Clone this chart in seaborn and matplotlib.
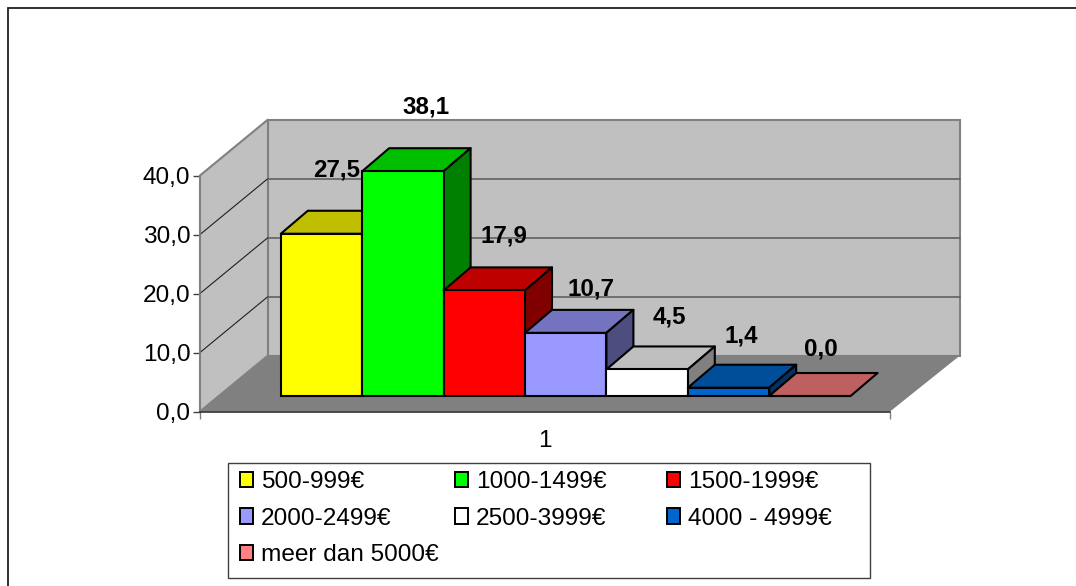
import matplotlib
matplotlib.use("Agg")
import matplotlib.pyplot as plt
from matplotlib.lines import Line2D
from matplotlib.patches import Patch, Polygon, Rectangle
from matplotlib.ticker import FuncFormatter
import seaborn as sns

categories = ["500-999€", "1000-1499€", "1500-1999€", "2000-2499€",
              "2500-3999€", "4000 - 4999€", "meer dan 5000€"]
values = [27.5, 38.1, 17.9, 10.7, 4.5, 1.4, 0.0]
bar_colors = ["#FFFF00", "#00FF00", "#FF0000", "#9999FF",
              "#FFFFFF", "#0066CC", "#FF8080"]
y_ticks = [0, 10, 20, 30, 40]
x_label = "1"

# label nudges from the top centre of each bar, in pixels (x, up)
label_nudge = [(15, 64), (23, 64), (20, 54), (25, 44), (22, 52), (13, 52), (11, 47)]
legend_columns = [[0, 3, 6], [1, 4], [2, 5]]
legend_left = [240, 455, 667]

W, H = 1076, 586
PX_PER_UNIT = 5.9
WALL_DEPTH = (68, 56)
WALL_DEPTH_RIGHT = 70
BAR_DEPTH = (27, 23)
BAR_EDGE = 1.5
GREY = "#C0C0C0"
DARK = "#808080"
TEXT_SIZE = 17.6

sns.set_theme(style="white")
plt.rcParams["font.family"] = ["Liberation Sans", "DejaVu Sans"]
plt.rcParams["font.size"] = TEXT_SIZE
plt.rcParams["text.color"] = "black"
plt.rcParams["xtick.labelcolor"] = "black"
plt.rcParams["ytick.labelcolor"] = "black"


def px_axes(fig, left, right, bottom, top):
    # axes placed with pixel positions measured from the top of the image
    ax = fig.add_axes([left / W, 1 - bottom / H, (right - left) / W, (bottom - top) / H])
    ax.patch.set_visible(False)
    return ax


def shade(color, factor):
    r, g, b = matplotlib.colors.to_rgb(color)
    return (r * factor, g * factor, b * factor)


fig = plt.figure(figsize=(W / 100, H / 100), dpi=100)
# chart area border, cut off by the image on the right and at the bottom
fig.add_artist(Line2D([7.5 / W, 7.5 / W, 1], [0, 1 - 7.5 / H, 1 - 7.5 / H],
                      color="#202020", linewidth=1.3, solid_joinstyle="miter"))

# walls and floor, on the value axis of the front plane
ax_front = px_axes(fig, 200, 890, 411.5, 175.5)
ax_front.set_xlim(0, 1)
ax_front.set_ylim(0, 40)
wall_dx = WALL_DEPTH[0] / 690
wall_right = 1 + WALL_DEPTH_RIGHT / 690
wall_dy = WALL_DEPTH[1] / PX_PER_UNIT
floor_pts = [(0, 0), (wall_dx, wall_dy), (wall_right, wall_dy), (1, 0)]
side_pts = [(0, 0), (wall_dx, wall_dy), (wall_dx, 40 + wall_dy), (0, 40)]
back_pts = [(wall_dx, wall_dy), (wall_dx, 40 + wall_dy),
            (wall_right, 40 + wall_dy), (wall_right, wall_dy)]
ax_front.add_patch(Polygon(back_pts, facecolor=GREY, edgecolor=DARK, linewidth=1.5, clip_on=False))
ax_front.add_patch(Polygon(side_pts, facecolor=GREY, edgecolor=DARK, linewidth=1.5, clip_on=False))
ax_front.add_patch(Polygon(floor_pts, facecolor=DARK, edgecolor="none", clip_on=False))
for tick in y_ticks[1:-1]:
    ax_front.plot([0, wall_dx], [tick, tick + wall_dy], color="#202020", lw=0.8, clip_on=False)
    ax_front.plot([wall_dx, wall_right], [tick + wall_dy, tick + wall_dy],
                  color="#606060", lw=1.2, clip_on=False)

for side in ["top", "right"]:
    ax_front.spines[side].set_visible(False)
ax_front.spines["left"].set_color(DARK)
ax_front.spines["left"].set_linewidth(1.2)
ax_front.spines["bottom"].set_color("#303030")
ax_front.spines["bottom"].set_linewidth(1.2)
ax_front.set_yticks(y_ticks)
ax_front.yaxis.set_major_formatter(FuncFormatter(lambda v, _: f"{v:.1f}".replace(".", ",")))
ax_front.set_xticks([0, 1])
ax_front.set_xticklabels([])
ax_front.set_xticks([0.5], labels=[x_label], minor=True)
ax_front.tick_params(axis="y", left=True, length=5, width=1, color="#404040", pad=2, labelsize=TEXT_SIZE)
ax_front.tick_params(axis="x", which="major", bottom=True, length=5, width=1, color=DARK)
ax_front.tick_params(axis="x", which="minor", bottom=False, length=0, pad=13, labelsize=TEXT_SIZE)

# bars, with the depth faces built from the bar rectangles
ax_bars = px_axes(fig, 280.8, 280.8 + 7 * 81.4, 396, 396 - 40 * PX_PER_UNIT)
sns.barplot(x=categories, y=values, hue=categories, palette=bar_colors, order=categories,
            hue_order=categories, width=1, dodge=False, legend=False, saturation=1,
            edgecolor="black", linewidth=BAR_EDGE, ax=ax_bars)
ax_bars.set_xlim(-0.5, 6.5)
ax_bars.set_ylim(0, 40)
ax_bars.axis("off")
bar_dx = BAR_DEPTH[0] / 81.4
bar_dy = BAR_DEPTH[1] / PX_PER_UNIT
for i, (bar, color) in enumerate(zip(ax_bars.patches, bar_colors)):
    x0, x1 = bar.get_x(), bar.get_x() + bar.get_width()
    top = bar.get_height()
    zorder = 3 + 2 * i
    bar.set_zorder(zorder + 1)
    bar.set_clip_on(False)
    ax_bars.add_patch(Polygon([(x0, top), (x0 + bar_dx, top + bar_dy),
                               (x1 + bar_dx, top + bar_dy), (x1, top)],
                              facecolor=shade(color, 0.75), edgecolor="black",
                              linewidth=BAR_EDGE, joinstyle="round", clip_on=False, zorder=zorder))
    if top > 0:
        ax_bars.add_patch(Polygon([(x1, 0), (x1 + bar_dx, bar_dy),
                                   (x1 + bar_dx, top + bar_dy), (x1, top)],
                                  facecolor=shade(color, 0.5), edgecolor="black",
                                  linewidth=BAR_EDGE, joinstyle="round", clip_on=False, zorder=zorder))
    nudge = label_nudge[i]
    ax_bars.annotate(f"{values[i]:.1f}".replace(".", ","), (i, top),
                     xytext=(nudge[0] * 0.72, nudge[1] * 0.72), textcoords="offset points",
                     ha="center", va="center", fontsize=17.4, fontweight="bold",
                     color="black", zorder=40, annotation_clip=False)

# legend frame and its three columns
fig.patches.append(Rectangle((227.5 / W, 1 - 578 / H), 642 / W, 115 / H,
                             transform=fig.transFigure, facecolor="white",
                             edgecolor="#404040", linewidth=1))
for col, left in zip(legend_columns, legend_left):
    handles = [Patch(facecolor=bar_colors[i], edgecolor="black", linewidth=1.4) for i in col]
    labels = [categories[i] for i in col]
    fig.legend(handles, labels, loc="upper left", bbox_to_anchor=(left / W, 1 - 471 / H),
               frameon=False, fontsize=TEXT_SIZE, ncol=1, borderpad=0, borderaxespad=0,
               labelcolor="black", handlelength=0.54, handleheight=0.58,
               handletextpad=0.32, labelspacing=0.6)

fig.savefig("out.png", dpi=100)
